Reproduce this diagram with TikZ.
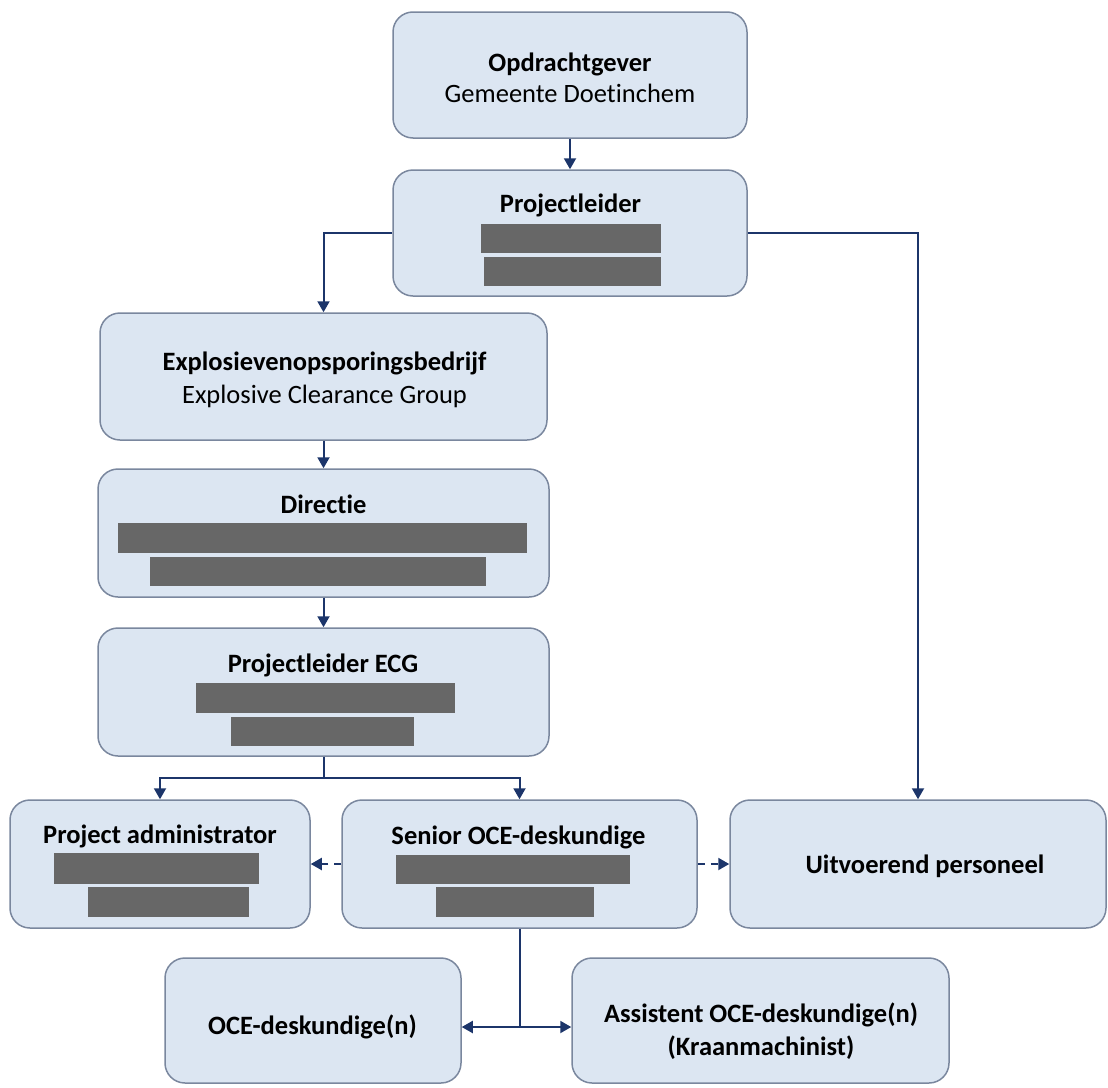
\documentclass[tikz,border=0pt]{standalone}
\usepackage{fontspec}
\setmainfont{Carlito}[Ligatures=NoCommon]
\usetikzlibrary{arrows.meta}
\definecolor{boxfill}{HTML}{DCE6F2}
\definecolor{boxline}{HTML}{7A879E}
\definecolor{linkcol}{HTML}{1C356A}
\definecolor{barcol}{HTML}{676767}
\begin{document}
\begin{tikzpicture}[
		x=1pt, y=-1pt,
		box/.style={draw=boxline, fill=boxfill, line width=1.5pt, rounded corners=20pt, inner sep=0pt},
		title/.style={font=\fontsize{26.5}{30}\selectfont\bfseries, inner sep=0pt, anchor=base},
		sub/.style={font=\fontsize{26.5}{30}\selectfont, inner sep=0pt, anchor=base},
		bar/.style={fill=barcol, draw=none, inner sep=0pt},
		link/.style={draw=linkcol, line width=2pt, -{Triangle[length=11pt,width=12pt]}},
		plain/.style={draw=linkcol, line width=2pt},
		dlink/.style={link, dash pattern=on 7pt off 6pt}]

		\useasboundingbox (0,0) rectangle (1108,1087);

		% boxes
		\node[box, minimum width=354, minimum height=126] (opdracht) at (570,75) {};
		\node[box, minimum width=354, minimum height=126] (pl) at (570,233) {};
		\node[box, minimum width=447, minimum height=127] (ecg) at (323.5,376.5) {};
		\node[box, minimum width=451, minimum height=128] (dir) at (323.5,533) {};
		\node[box, minimum width=451, minimum height=128] (plecg) at (323.5,692) {};
		\node[box, minimum width=300, minimum height=128] (admin) at (160,864) {};
		\node[box, minimum width=355, minimum height=128] (senior) at (519.5,864) {};
		\node[box, minimum width=376, minimum height=128] (uitv) at (918,864) {};
		\node[box, minimum width=296, minimum height=125] (oce) at (313,1020.5) {};
		\node[box, minimum width=377, minimum height=125] (assist) at (760.5,1020.5) {};

		% texts
		\node[title] (opdracht-t) at (570,71) {Opdrachtgever};
		\node[sub] (opdracht-s) at (570,102) {Gemeente Doetinchem};
		\node[title] (pl-t) at (570.5,212) {Projectleider};
		\node[bar, minimum width=180, minimum height=29] (pl-b1) at (571,238.5) {};
		\node[bar, minimum width=177, minimum height=29] (pl-b2) at (572.5,271.5) {};
		\node[title] (ecg-t) at (324.5,370) {Explosievenopsporingsbedrijf};
		\node[sub] (ecg-s) at (324.5,403) {Explosive Clearance Group};
		\node[title] (dir-t) at (323.5,513) {Directie};
		\node[bar, minimum width=409, minimum height=30] (dir-b1) at (322.5,538) {};
		\node[bar, minimum width=336, minimum height=29] (dir-b2) at (318,571.5) {};
		\node[title] (plecg-t) at (323,672) {Projectleider ECG};
		\node[bar, minimum width=259, minimum height=30] (plecg-b1) at (325.5,698) {};
		\node[bar, minimum width=183, minimum height=29] (plecg-b2) at (322.5,731.5) {};
		\node[title] (admin-t) at (160,843) {Project administrator};
		\node[bar, minimum width=205, minimum height=31] (admin-b1) at (156.5,868.5) {};
		\node[bar, minimum width=161, minimum height=30] (admin-b2) at (168.5,902) {};
		\node[title] (senior-t) at (518.5,844) {Senior OCE-deskundige};
		\node[bar, minimum width=234, minimum height=29] (senior-b1) at (513,869.5) {};
		\node[bar, minimum width=158, minimum height=30] (senior-b2) at (515,902) {};
		\node[title] (uitv-t) at (925,873) {Uitvoerend personeel};
		\node[title] (oce-t) at (312.5,1034) {OCE-deskundige(n)};
		\node[title] (assist-t) at (761,1022) {Assistent OCE-deskundige(n)};
		\node[title] (assist-s) at (761,1055) {(Kraanmachinist)};

		% junctions
		\coordinate (split) at (323.5,778);
		\coordinate (fork) at (519.5,1027);

		% connectors
		\draw[link] (opdracht) -- (pl);
		\draw[link] (pl.west) -| (ecg.north);
		\draw[link] (pl.east) -| (uitv.north);
		\draw[link] (ecg) -- (dir);
		\draw[link] (dir) -- (plecg);
		\draw[plain] (plecg.south) -- (split);
		\draw[link] (split) -| (admin.north);
		\draw[link] (split) -| (senior.north);
		\draw[dlink] (senior.west) -- (admin.east);
		\draw[dlink] (senior.east) -- (uitv.west);
		\draw[plain] (senior.south) -- (fork);
		\draw[link] (fork) -- (oce.east |- fork);
		\draw[link] (fork) -- (assist.west |- fork);

\end{tikzpicture}
\end{document}
